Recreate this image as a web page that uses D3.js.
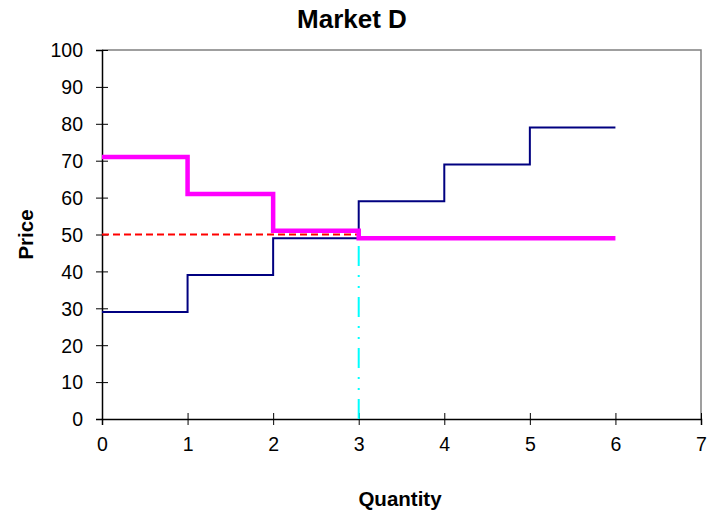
<!DOCTYPE html>
<html>
<head>
<meta charset="utf-8">
<script src="https://cdn.jsdelivr.net/npm/d3@7/dist/d3.min.js"></script>
<style>
  body { margin: 0; background: #fff; }
  svg { display: block; font-family: "Liberation Sans", Arial, sans-serif; }
</style>
</head>
<body>
<svg id="chart" width="710" height="512"></svg>
<script>
// Step schedules: price for each unit of quantity
const quantities = [0, 1, 2, 3, 4, 5, 6];
const supplyPrices = [29, 39, 49, 59, 69, 79, 79];
const demandPrices = [71, 61, 51, 49, 49, 49, 49];
const clearingPrice = 50;
const clearingQuantity = 3;
const xTicks = [0, 1, 2, 3, 4, 5, 6, 7];
const yTicks = [0, 10, 20, 30, 40, 50, 60, 70, 80, 90, 100];

const svg = d3.select("#chart");
const plotLeft = 102, plotRight = 701, plotTop = 50, plotBottom = 419;
const fontFamily = "\"Liberation Sans\", Arial, sans-serif";

const x = d3.scaleLinear().domain([0, 7]).range([plotLeft, plotRight]);
const y = d3.scaleLinear().domain([0, 100]).range([plotBottom, plotTop]);

// Plot frame: grey top/right edges
svg.append("path")
  .attr("d", `M${plotLeft},${plotTop}H${plotRight}V${plotBottom}`)
  .attr("fill", "none").attr("stroke", "#808080").attr("stroke-width", 1.5);

// Axes with ticks crossing the axis line
const yAxis = d3.axisLeft(y).tickValues(yTicks).tickSize(6).tickFormat(d3.format("d"));
const xAxis = d3.axisBottom(x).tickValues(xTicks).tickSize(6).tickFormat(d3.format("d"));

const gy = svg.append("g").attr("transform", `translate(${plotLeft},0)`).call(yAxis);
const gx = svg.append("g").attr("transform", `translate(0,${plotBottom})`).call(xAxis);

[gy, gx].forEach(g => {
  g.attr("font-size", 19.5).attr("font-family", fontFamily);
  g.select(".domain").attr("stroke", "#000").attr("stroke-width", 1.5);
  g.selectAll(".tick line").attr("stroke", "#000");
  g.selectAll(".tick text").attr("fill", "#000");
});
gy.selectAll(".tick line").attr("x1", 6).attr("x2", -6);
gx.selectAll(".tick line").attr("y1", -6).attr("y2", 6);
gy.selectAll(".tick text").attr("x", -19).attr("dy", "0.35em");
gx.selectAll(".tick text").attr("y", 32).attr("dy", 0);

const step = d3.line()
  .x((d, i) => x(quantities[i]))
  .y(d => y(d))
  .curve(d3.curveStepAfter);

// Clearing price reference (dashed red)
svg.append("line")
  .attr("x1", x(0)).attr("x2", x(clearingQuantity))
  .attr("y1", y(clearingPrice)).attr("y2", y(clearingPrice))
  .attr("stroke", "#ff0000").attr("stroke-width", 2)
  .attr("stroke-dasharray", "7,4");

// Clearing quantity reference (cyan dash-dot-dot, drawn upward from the axis)
svg.append("line")
  .attr("x1", x(clearingQuantity)).attr("x2", x(clearingQuantity))
  .attr("y1", y(0)).attr("y2", y(clearingPrice))
  .attr("stroke", "#00ffff").attr("stroke-width", 2)
  .attr("stroke-dasharray", "20,9,2,9,2,9");

// Supply schedule
svg.append("path")
  .datum(supplyPrices)
  .attr("d", step)
  .attr("fill", "none").attr("stroke", "#000080").attr("stroke-width", 2);

// Demand schedule
svg.append("path")
  .datum(demandPrices)
  .attr("d", step)
  .attr("fill", "none").attr("stroke", "#ff00ff").attr("stroke-width", 4.5);

// Titles
svg.append("text")
  .attr("x", 352).attr("y", 28).attr("text-anchor", "middle")
  .attr("font-family", fontFamily)
  .attr("font-size", 26).attr("font-weight", "bold").text("Market D");

svg.append("text")
  .attr("x", 400).attr("y", 506).attr("text-anchor", "middle")
  .attr("font-family", fontFamily)
  .attr("font-size", 20.5).attr("font-weight", "bold").text("Quantity");

svg.append("text")
  .attr("transform", `translate(33,${(plotTop + plotBottom) / 2}) rotate(-90)`)
  .attr("text-anchor", "middle")
  .attr("font-family", fontFamily)
  .attr("font-size", 20.5).attr("font-weight", "bold").text("Price");
</script>
</body>
</html>
